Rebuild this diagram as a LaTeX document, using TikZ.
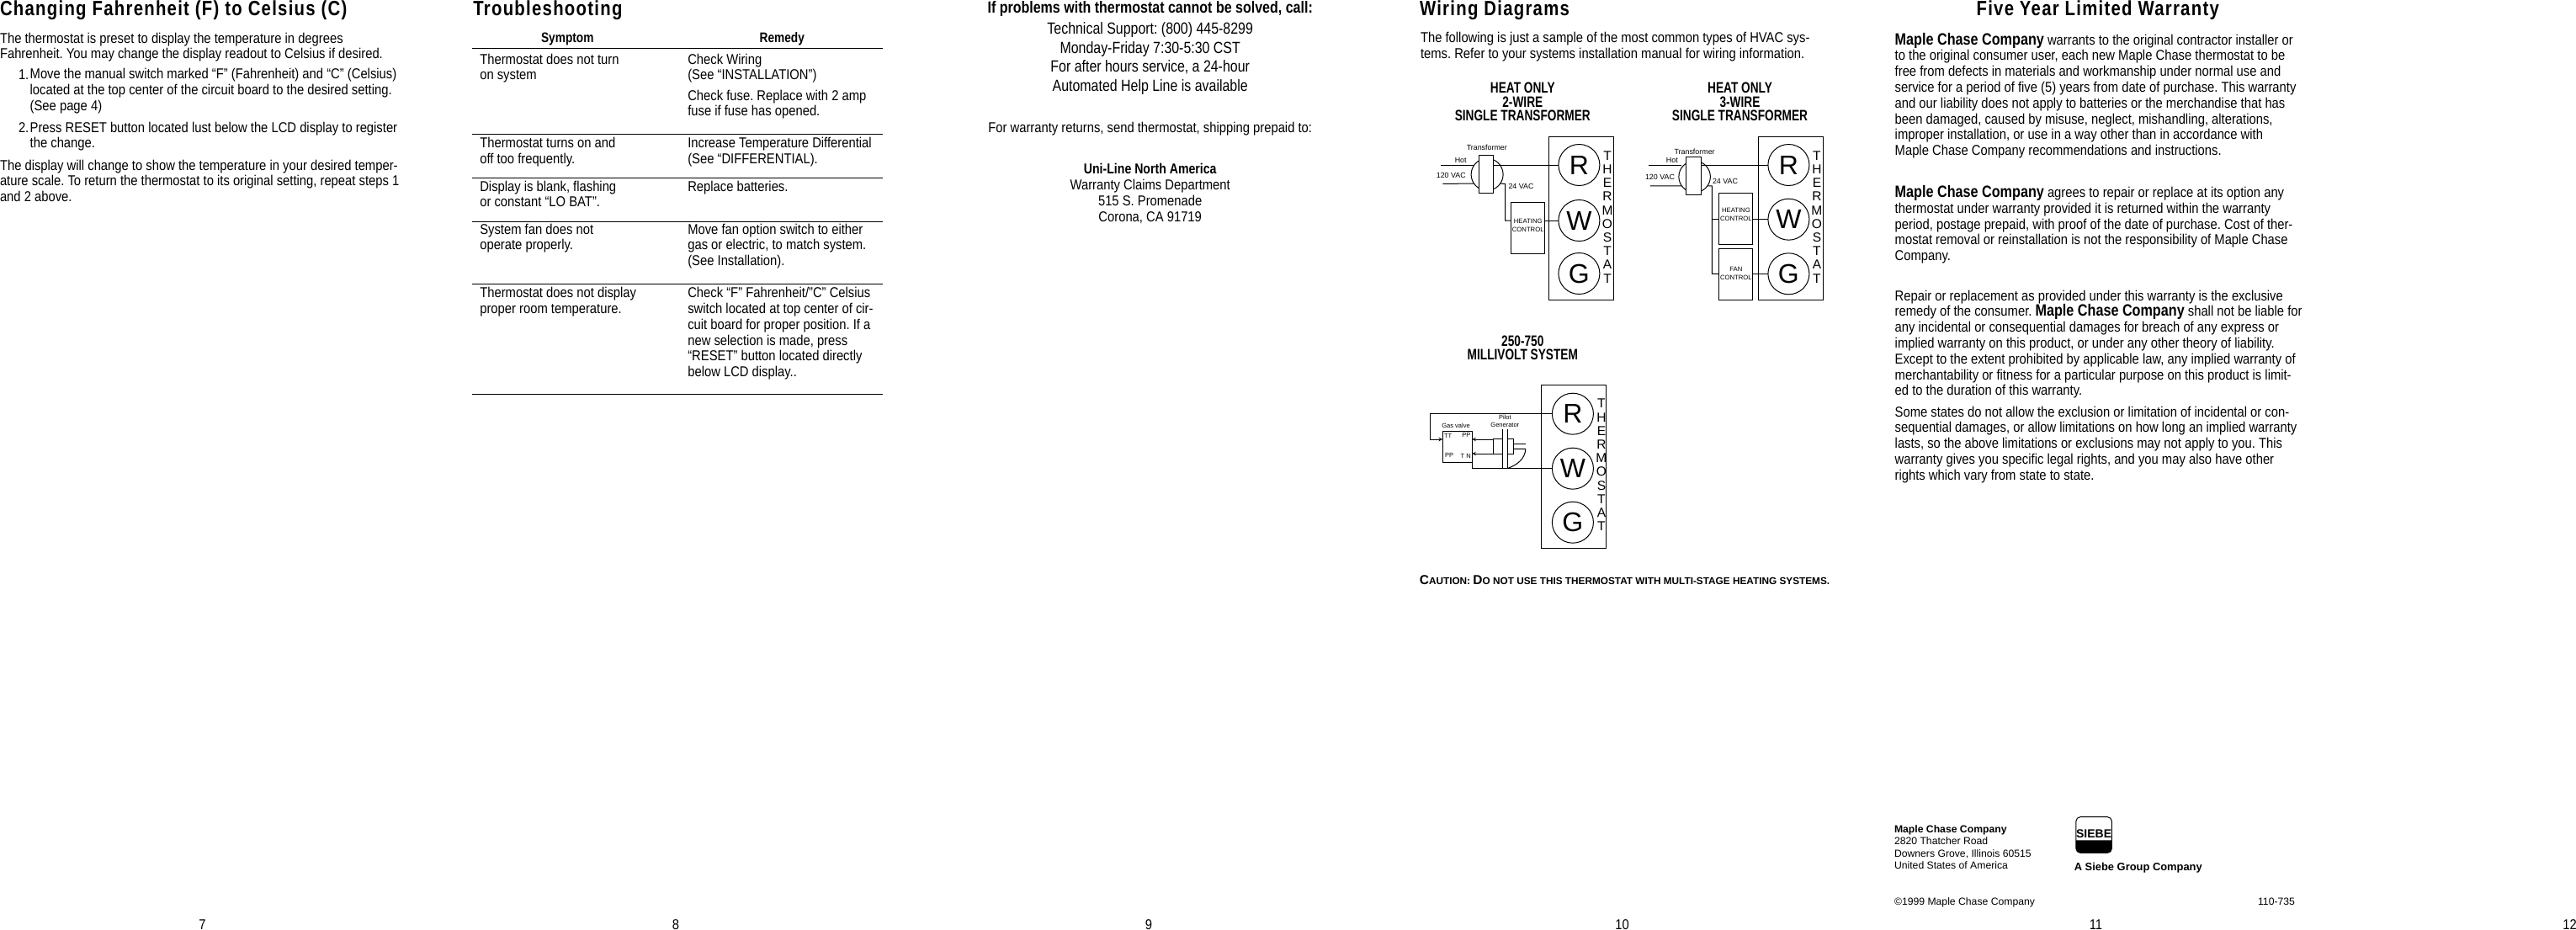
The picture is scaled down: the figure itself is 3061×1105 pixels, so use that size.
\documentclass[tikz,border=0pt]{standalone}
\usepackage{fontspec}
\usetikzlibrary{positioning,arrows}
\setmainfont[FakeStretch=0.87]{Liberation Sans}
\newfontfamily\wirefont{Liberation Sans}
\newfontfamily\narrowfont[FakeStretch=0.83]{Liberation Sans}
\newfontfamily\condfont[FakeStretch=0.76]{Liberation Sans}
\newfontfamily\headfont[FakeStretch=0.83,LetterSpace=5.2]{Liberation Sans}
\newcommand{\mcc}{{\narrowfont\fontsize{19.5}{19.5}\selectfont\bfseries Maple Chase Company}}
\newcommand{\capC}[1]{{\fontsize{15.5}{15.5}\selectfont #1}}
\AtBeginDocument{\frenchspacing}

\tikzset{
  txt/.style={inner sep=0pt,outer sep=0pt,anchor=north west,align=left,
    font=\fontsize{17}{18.8}\selectfont,execute at begin node=\strut},
  head/.style={txt,font=\headfont\fontsize{24.5}{26}\selectfont\bfseries},
  thead/.style={txt,anchor=north,align=center,font=\narrowfont\fontsize{16.5}{18.8}\selectfont\bfseries},
  phone/.style={txt,anchor=north,align=center,font=\narrowfont\fontsize{19.2}{22.5}\selectfont},
  dhead/.style={txt,anchor=north,align=center,font=\condfont\fontsize{18}{16.6}\selectfont\bfseries},
  foot/.style={txt,font=\wirefont\fontsize{12.2}{14.4}\selectfont},
  pageno/.style={inner sep=0pt,outer sep=0pt,font=\fontsize{17}{19}\selectfont},
  panel/.style={draw,rectangle,line width=1pt,minimum width=76.8pt,minimum height=194.3pt,inner sep=0pt,outer sep=0pt},
  term/.style={draw,circle,line width=1pt,minimum size=49pt,inner sep=0pt,outer sep=0pt,font=\wirefont\fontsize{32}{32}\selectfont},
  letters/.style={inner sep=0pt,outer sep=0pt,align=center,font=\wirefont\fontsize{15.5}{16.2}\selectfont},
  ctrl/.style={draw,rectangle,line width=1pt,minimum width=39.6pt,inner sep=0pt,outer sep=0pt},
  core/.style={draw,circle,line width=1pt,inner sep=0pt,outer sep=0pt},
  xbar/.style={draw,rectangle,fill=white,line width=1pt,inner sep=0pt,outer sep=0pt},
  small/.style={inner sep=0pt,outer sep=0pt,align=center,font=\wirefont\fontsize{8.9}{9.6}\selectfont},
  tiny/.style={inner sep=0pt,outer sep=0pt,align=center,font=\wirefont\fontsize{7.5}{9}\selectfont},
  ctxt/.style={inner sep=0pt,outer sep=0pt,align=center,font=\wirefont\fontsize{7.7}{9.8}\selectfont},
  wire/.style={line width=1pt}
}

\begin{document}
\begin{tikzpicture}[x=1pt,y=-1pt,on grid,>=stealth]
  \useasboundingbox (0,0) rectangle (3061,1105);

  \node[head] (t_temp) at (0,0) {Changing Fahrenheit (F) to Celsius (C)};
  \node[txt] (p_intro) at (0,38.7) {The thermostat is preset to display the temperature in degrees\\Fahrenheit. You may change the display readout to Celsius if desired.};
  \node[txt] (n_one) at (22,81.3) {1.};
  \node[txt] (p_one) at (35.7,81.3) {Move the manual switch marked “F” (Fahrenheit) and “C” (Celsius)\\located at the top center of the circuit board to the desired setting.\\(See page 4)};
  \node[txt] (n_two) at (22,144.7) {2.};
  \node[txt] (p_two) at (35.7,144.7) {Press RESET button located lust below the LCD display to register\\the change.};
  \node[txt] (p_end) at (0,189.7) {The display will change to show the temperature in your desired temper-\\ature scale. To return the thermostat to its original setting, repeat steps 1\\and 2 above.};

  \node[head] (t_trouble) at (562.3,0) {Troubleshooting};
  \node[thead] (h_sym) at (674.3,37.3) {Symptom};
  \node[thead] (h_rem) at (929.3,37.3) {Remedy};
  \draw[line width=1pt] (561,57.3) -- (1049,57.3) (561,159.3) -- (1049,159.3) (561,211.3) -- (1049,211.3)
    (561,263.3) -- (1049,263.3) (561,337.3) -- (1049,337.3) (561,468.3) -- (1049,468.3);
  \node[txt] (s_one) at (570.3,63.7) {Thermostat does not turn\\on system};
  \node[txt] (r_one) at (817.3,63.7) {Check Wiring\\(See “INSTALLATION”)};
  \node[txt] (r_onb) at (817.3,106.7) {Check fuse. Replace with 2 amp\\fuse if fuse has opened.};
  \node[txt] (s_two) at (570.3,163.3) {Thermostat turns on and\\off too frequently.};
  \node[txt] (r_two) at (817.3,163.3) {Increase Temperature Differential\\(See “DIFFERENTIAL).};
  \node[txt] (s_three) at (570.3,214.7) {Display is blank, flashing\\or constant “LO BAT”.};
  \node[txt] (r_three) at (817.3,214.7) {Replace batteries.};
  \node[txt] (s_four) at (570.3,265.7) {System fan does not\\operate properly.};
  \node[txt] (r_four) at (817.3,265.7) {Move fan option switch to either\\gas or electric, to match system.\\(See Installation).};
  \node[txt] (s_five) at (570.3,341.3) {Thermostat does not display\\proper room temperature.};
  \node[txt] (r_five) at (817.3,341.3) {Check “F” Fahrenheit/”C” Celsius\\switch located at top center of cir-\\cuit board for proper position. If a\\new selection is made, press\\“RESET” button located directly\\below LCD display..};

  \node[thead,font=\narrowfont\fontsize{19.3}{19}\selectfont\bfseries] (t_call) at (1366.7,1.5) {If problems with thermostat cannot be solved, call:};
  \node[phone] (p_phone) at (1366.7,26.7) {Technical Support: (800) 445-8299\\Monday-Friday 7:30-5:30 CST\\For after hours service, a 24-hour\\Automated Help Line is available};
  \node[txt,anchor=north] (p_ret) at (1366.7,144.7) {For warranty returns, send thermostat, shipping prepaid to:};
  \node[txt,anchor=north,align=center] (p_addr) at (1366.7,194.3) {{\narrowfont\bfseries Uni-Line North America}\\Warranty Claims Department\\515 S. Promenade\\Corona, CA 91719};

  \node[head] (t_wire) at (1687,0) {Wiring Diagrams};
  \node[txt] (p_wire) at (1688,38) {The following is just a sample of the most common types of HVAC sys-\\tems. Refer to your systems installation manual for wiring information.};

  \node[dhead] (d_one) at (1809.3,98) {HEAT ONLY\\2-WIRE\\SINGLE TRANSFORMER};
  \node[panel] (th_a) at (1879.1,259.15) {};
  \node[term] (r_a) at (1876.4,196) {R};
  \node[term] (w_a) [below=66pt of r_a] {W};
  \node[term] (g_a) [below=63pt of w_a] {G};
  \node[letters] (let_a) at (1910,257.8) {T\\H\\E\\R\\M\\O\\S\\T\\A\\T};
  \node[core] (cr_a) at (1767.1,207.3) [minimum size=38pt] {};
  \node[xbar,minimum width=17.1pt,minimum height=45pt] (xf_a) at (1766,206.8) {};
  \node[ctrl,minimum height=61pt] (hc_a) at (1815.5,270.8) {};
  \node[ctxt] (hct_a) at (1815.7,267.7) {HEATING\\CONTROL};
  \node[small] (lxf_a) at (1766.8,175.7) {Transformer};
  \node[small] (lhot_a) at (1735.7,190) {Hot};
  \node[small] (l120_a) at (1724.3,208.7) {120 VAC};
  \node[small] (l24_a) at (1807.5,221.7) {24 VAC};
  \coordinate (hot_a) at (1712.1,196.3);
  \coordinate (neu_a) at (1714.3,218.3);
  \coordinate (jn_a) at (1788.6,218.3);
  \draw[wire] (hot_a) -- (hot_a -| cr_a.145);
  \draw[wire] (neu_a) -- (cr_a.215);
  \draw[wire] (xf_a.east |- r_a) -- (r_a.west);
  \draw[wire] (cr_a.-35) -- (jn_a) |- (hc_a.west |- w_a);
  \draw[wire] (hc_a.east |- w_a) -- (w_a.west);

  \node[dhead] (d_two) at (2067.5,98) {HEAT ONLY\\3-WIRE\\SINGLE TRANSFORMER};
  \node[panel] (th_b) at (2128.05,259.15) {};
  \node[term] (r_b) at (2125.4,196) {R};
  \node[term] (w_b) [below=64.7pt of r_b] {W};
  \node[term] (g_b) [below=64.6pt of w_b] {G};
  \node[letters] (let_b) at (2158.9,257.8) {T\\H\\E\\R\\M\\O\\S\\T\\A\\T};
  \node[core] (cr_b) at (2013.6,210) [minimum size=37.5pt] {};
  \node[xbar,minimum width=18.2pt,minimum height=44.6pt] (xf_b) at (2012.7,209) {};
  \node[ctrl,minimum height=60.7pt] (hc_b) at (2062.7,259.65) {};
  \node[ctrl,minimum height=61pt] (fc_b) at (2062.7,325.8) {};
  \node[ctxt] (hct_b) at (2062.9,255) {HEATING\\CONTROL};
  \node[ctxt] (fct_b) at (2062.9,325) {FAN\\CONTROL};
  \node[small] (lxf_b) at (2013.6,180) {Transformer};
  \node[small] (lhot_b) at (1986.8,190) {Hot};
  \node[small] (l120_b) at (1972.5,210) {120 VAC};
  \node[small] (l24_b) at (2050,215.7) {24 VAC};
  \coordinate (hot_b) at (1959.3,196.3);
  \coordinate (neu_b) at (1961,221);
  \coordinate (jn_b) at (2034.3,221);
  \draw[wire] (hot_b) -- (hot_b -| cr_b.145);
  \draw[wire] (neu_b) -- (cr_b.215);
  \draw[wire] (xf_b.east |- r_b) -- (r_b.west);
  \draw[wire] (cr_b.-35) -- (jn_b) |- (fc_b.west |- g_b);
  \draw[wire] (jn_b |- w_b) -- (hc_b.west |- w_b);
  \draw[wire] (hc_b.east |- w_b) -- (w_b.west);
  \draw[wire] (fc_b.east |- g_b) -- (g_b.west);

  \node[dhead] (d_three) at (1809.3,398.7) {250-750\\MILLIVOLT SYSTEM};
  \node[panel,minimum height=193.6pt] (th_c) at (1870,554.5) {};
  \node[term] (r_c) at (1868.9,491.7) {R};
  \node[term] (w_c) [below=65pt of r_c] {W};
  \node[term] (g_c) [below=64pt of w_c] {G};
  \node[letters] (let_c) at (1902.9,552.5) {T\\H\\E\\R\\M\\O\\S\\T\\A\\T};
  \node[draw,rectangle,line width=1pt,minimum width=35.3pt,minimum height=36.6pt,inner sep=0pt,outer sep=0pt] (gv) at (1731.65,531) {};
  \node[draw,rectangle,line width=1pt,minimum width=11.7pt,minimum height=18pt,inner sep=0pt,outer sep=0pt] (pa) at (1779.85,530.3) {};
  \node[draw,rectangle,line width=1pt,minimum width=6.6pt,minimum height=18pt,inner sep=0pt,outer sep=0pt] (pb) at (1795,530.3) {};
  \node[tiny] (lgv) at (1730,506) {Gas valve};
  \node[tiny] (lpg) at (1788.3,500.4) {Pilot\\Generator};
  \node[tiny] (ltt) at (1720.7,517.7) {TT};
  \node[tiny] (lpp) at (1742.3,517.3) {PP};
  \node[tiny] (lqq) at (1722,541) {PP};
  \node[tiny] (ltn) at (1741.7,542.3) {T N};
  \coordinate (lp_c) at (1699.3,491.7);
  \coordinate (ld_c) at (1699.3,522);
  \coordinate (ptop_a) at (1785.7,510);
  \coordinate (pbot_a) at (1785.7,556.3);
  \coordinate (ptop_b) at (1791.7,510);
  \coordinate (pbot_b) at (1791.7,556.3);
  \coordinate (ht_c) at (1812.7,533.3);
  \draw[wire] (r_c.west) -- (lp_c) -- (ld_c);
  \draw[wire,->] (ld_c) -- (gv.west |- ld_c);
  \draw[wire,->] (pa.west |- ld_c) -- (gv.east |- ld_c);
  \draw[wire,->] (pa.west |- 0,539) -- (gv.east |- 0,539);
  \draw[wire] (gv.south east) |- (w_c.west);
  \draw[wire] (ptop_a) -- (pbot_a);
  \draw[wire] (ptop_b) -- (pbot_b);
  \draw[wire] (pb.east |- 0,527) -- (1812.7,527);
  \draw[wire] (pb.east |- ht_c) -- (ht_c) .. controls (1812.7,545) and (1802,553) .. (pbot_b);

  \node[inner sep=0pt,outer sep=0pt,anchor=west,font=\wirefont\fontsize{11.8}{12}\selectfont\bfseries] (n_caution) at (1686.8,689.3) {\capC{C}AUTION: \capC{D}O NOT USE THIS THERMOSTAT WITH MULTI-STAGE HEATING SYSTEMS.};

  \node[head,anchor=north] (t_warr) at (2492.7,0) {Five Year Limited Warranty};
  \node[txt] (p_wa) at (2251.7,39) {\mcc{} warrants to the original contractor installer or\\to the original consumer user, each new Maple Chase thermostat to be\\free from defects in materials and workmanship under normal use and\\service for a period of five (5) years from date of purchase. This warranty\\and our liability does not apply to batteries or the merchandise that has\\been damaged, caused by misuse, neglect, mishandling, alterations,\\improper installation, or use in a way other than in accordance with\\Maple Chase Company recommendations and instructions.};
  \node[txt] (p_wb) at (2251.7,220.3) {\mcc{} agrees to repair or replace at its option any\\thermostat under warranty provided it is returned within the warranty\\period, postage prepaid, with proof of the date of purchase. Cost of ther-\\mostat removal or reinstallation is not the responsibility of Maple Chase\\Company.};
  \node[txt] (p_wc) at (2251.7,344.7) {Repair or replacement as provided under this warranty is the exclusive\\remedy of the consumer. \mcc{} shall not be liable for\\any incidental or consequential damages for breach of any express or\\implied warranty on this product, or under any other theory of liability.\\Except to the extent prohibited by applicable law, any implied warranty of\\merchantability or fitness for a particular purpose on this product is limit-\\ed to the duration of this warranty.};
  \node[txt] (p_wd) at (2251.7,482.7) {Some states do not allow the exclusion or limitation of incidental or con-\\sequential damages, or allow limitations on how long an implied warranty\\lasts, so the above limitations or exclusions may not apply to you. This\\warranty gives you specific legal rights, and you may also have other\\rights which vary from state to state.};

  \node[foot] (f_addr) at (2251,980.5) {\textbf{Maple Chase Company}\\2820 Thatcher Road\\Downers Grove, Illinois 60515\\United States of America};
  \node[draw,rectangle,rounded corners=5pt,line width=1pt,minimum width=42.4pt,minimum height=42.6pt,inner sep=0pt,outer sep=0pt] (logo) at (2488.1,992) {};
  \fill (logo.west |- 0,998.3) -- (logo.east |- 0,998.3) [rounded corners=5pt] -- (logo.south east) -- (logo.south west) [sharp corners] -- cycle;
  \node[inner sep=0pt,outer sep=0pt,font=\wirefont\fontsize{14}{14}\selectfont\bfseries] (l_siebe) at (2488.1,991) {SIEBE};
  \node[foot,font=\wirefont\fontsize{12.9}{14}\selectfont\bfseries] (f_group) at (2464.8,1024.5) {A Siebe Group Company};
  \node[foot] (f_copy) at (2251,1065) {©1999 Maple Chase Company};
  \node[foot,anchor=north] (f_code) at (2705,1065) {110-735};

  \node[pageno] (pg_a) at (240.5,1098.5) {7};
  \node[pageno] (pg_b) at (802.9,1098.5) {8};
  \node[pageno] (pg_c) at (1365,1098.5) {9};
  \node[pageno] (pg_d) at (1927.5,1098.5) {10};
  \node[pageno] (pg_e) at (2490.5,1098.5) {11};
  \node[pageno] (pg_f) at (3053.5,1098.5) {12};
\end{tikzpicture}
\end{document}
